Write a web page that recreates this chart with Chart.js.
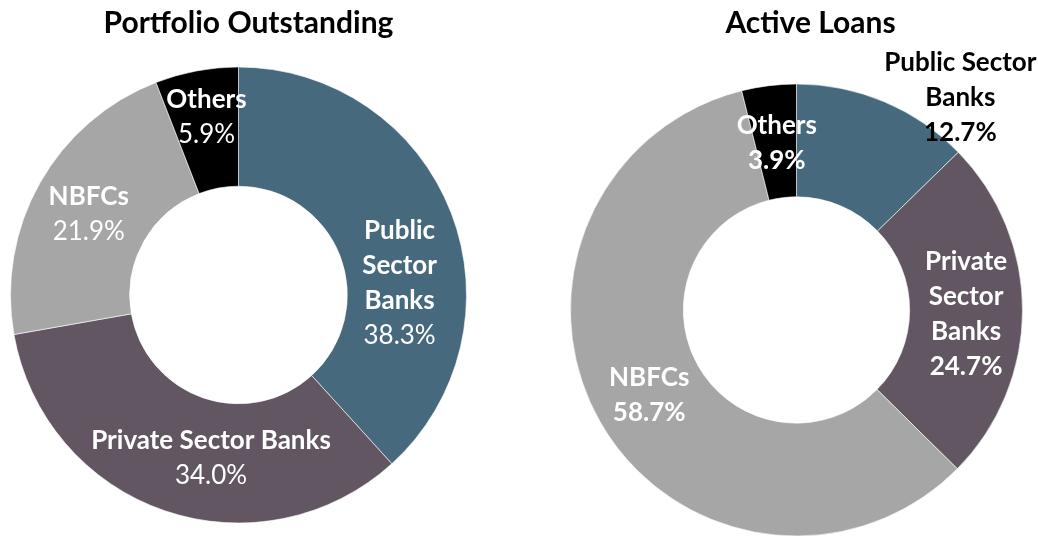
<!DOCTYPE html>
<html>
<head>
<meta charset="utf-8">
<script src="https://cdn.jsdelivr.net/npm/chart.js@4.4.1/dist/chart.umd.min.js"></script>
<style>
  html, body { margin: 0; padding: 0; background: #ffffff; }
  #wrap { position: relative; width: 1038px; height: 536px; overflow: hidden; }
  canvas { position: absolute; top: 0; }
  #c1 { left: 0; }
  #c2 { left: 519px; }
</style>
</head>
<body>
<div id="wrap">
  <canvas id="c1" width="519" height="536"></canvas>
  <canvas id="c2" width="519" height="536"></canvas>
</div>
<script>
// ---- data ----
const categories = ["Public Sector Banks", "Private Sector Banks", "NBFCs", "Others"];
const portfolioOutstanding = [38.3, 34.0, 21.9, 5.9];
const activeLoans = [12.7, 24.7, 58.7, 3.9];
const chartTitles = ["Portfolio Outstanding", "Active Loans"];

// label line breaks per chart (text only)
const portfolioLabelLines = [["Public", "Sector", "Banks"], ["Private Sector Banks"], ["NBFCs"], ["Others"]];
const activeLabelLines = [["Public Sector", "Banks"], ["Private", "Sector", "Banks"], ["NBFCs"], ["Others"]];

// ---- styles ----
const sliceColors = ["#46697e", "#625662", "#a6a6a6", "#000000"];
const FONT = "Lato, 'Open Sans', sans-serif";

function labelPlugin(cfg) {
  return {
    id: "sliceLabels_" + cfg.id,
    afterDatasetsDraw(chart) {
      const ctx = chart.ctx;
      const meta = chart.getDatasetMeta(0);
      const vals = chart.data.datasets[0].data;
      ctx.save();
      ctx.textAlign = "center";
      ctx.textBaseline = "middle";
      meta.data.forEach((arc, i) => {
        const p = arc.getCenterPoint();
        const off = cfg.offsets[i] || [0, 0];
        const lines = cfg.lines[i];
        const pct = vals[i].toFixed(1) + "%";
        const all = lines.length + 1;
        const lh = cfg.lineHeight;
        const cx = p.x + off[0];
        const cy = p.y + off[1];
        const y0 = cy - (all - 1) * lh / 2;
        const col = (cfg.colors && cfg.colors[i]) || "#ffffff";
        ctx.fillStyle = col;
        lines.forEach((t, k) => {
          ctx.font = "bold " + cfg.size + "px " + FONT;
          ctx.fillText(t, cx, y0 + k * lh);
        });
        ctx.font = (cfg.pctBold ? "bold " : "") + cfg.size + "px " + FONT;
        ctx.fillText(pct, cx, y0 + lines.length * lh);
      });
      // title
      const ca = chart.chartArea;
      ctx.fillStyle = "#000000";
      ctx.font = "bold " + cfg.titleSize + "px " + FONT;
      ctx.textBaseline = "alphabetic";
      ctx.fillText(cfg.title, (ca.left + ca.right) / 2 + cfg.titleDx, cfg.titleY);
      ctx.restore();
    }
  };
}

function makeChart(id, values, pad, radius, cutout, plug) {
  return new Chart(document.getElementById(id), {
    type: "doughnut",
    data: {
      labels: categories,
      datasets: [{
        data: values,
        backgroundColor: sliceColors,
        borderColor: "#ffffff",
        borderWidth: 0.6,
        radius: radius,
        cutout: cutout
      }]
    },
    options: {
      responsive: false,
      animation: false,
      events: [],
      layout: { padding: pad },
      plugins: { legend: { display: false }, tooltip: { enabled: false }, title: { display: false } }
    },
    plugins: [plug]
  });
}

makeChart("c1", portfolioOutstanding,
  { left: 0, right: 42, top: 60, bottom: 6 }, 228, 112,
  labelPlugin({
    id: "a", lines: portfolioLabelLines, size: 26, lineHeight: 35, pctBold: false,
    offsets: [[4, 49], [27, 4], [-3, 2], [-1, -12]],
    title: chartTitles[0], titleSize: 30, titleDx: 10, titleY: 33
  }));

makeChart("c2", activeLoans,
  { left: 36, right: 0, top: 84, bottom: 0 }, 226, 113,
  labelPlugin({
    id: "b", lines: activeLabelLines, size: 26, lineHeight: 35, pctBold: true,
    colors: ["#000000", "#ffffff", "#ffffff", "#ffffff"],
    offsets: [[98, -56], [0, 4], [0, 1], [1, 1]],
    title: chartTitles[1], titleSize: 30, titleDx: 14, titleY: 33
  }));
</script>
</body>
</html>
